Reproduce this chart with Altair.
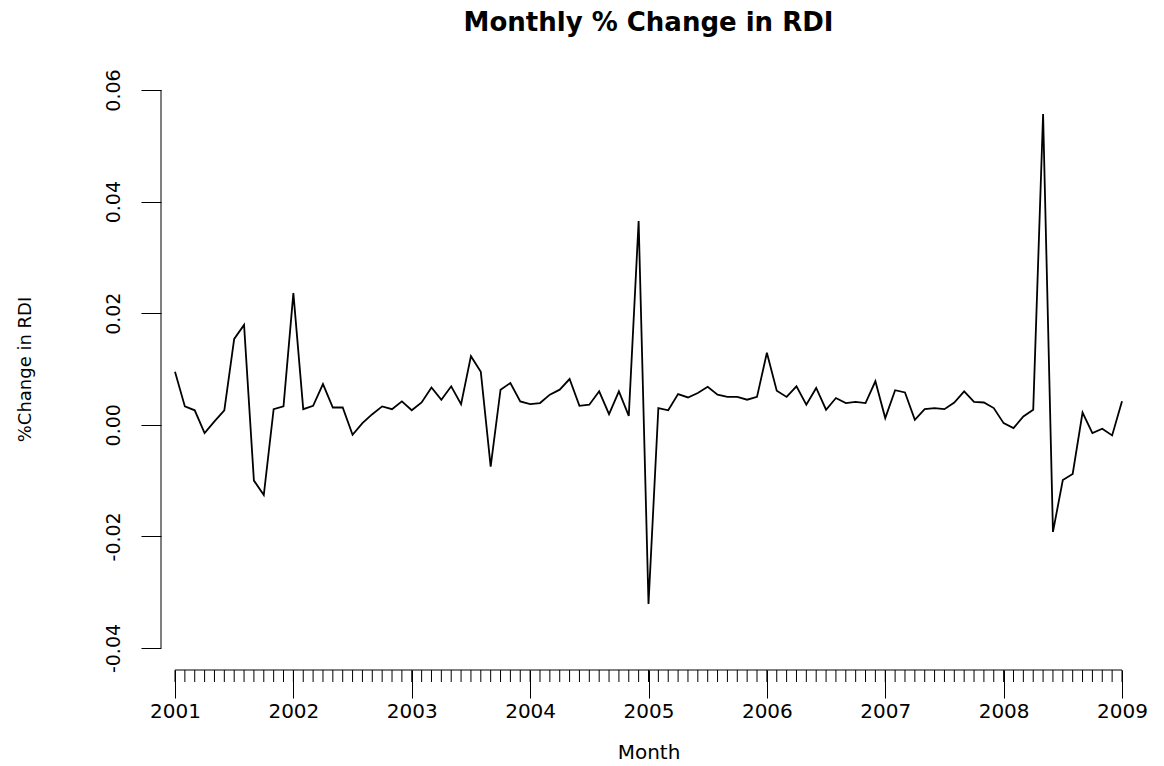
import altair as alt
import pandas as pd

# Monthly % change in RDI, Jan 2001 .. Jan 2009
rdi_change = [
    0.0095, 0.0033, 0.0026, -0.0015, 0.0006, 0.0026, 0.0154, 0.0179, -0.0100, -0.0126, 0.0028, 0.0033,
    0.0236, 0.0028, 0.0034, 0.0073, 0.0031, 0.0031, -0.0018, 0.0003, 0.0019, 0.0033, 0.0028, 0.0042,
    0.0026, 0.0040, 0.0067, 0.0045, 0.0069, 0.0037, 0.0123, 0.0095, -0.0075, 0.0063, 0.0075, 0.0042,
    0.0037, 0.0039, 0.0054, 0.0063, 0.0082, 0.0034, 0.0036, 0.0060, 0.0019, 0.0060, 0.0016, 0.0365,
    -0.0321, 0.0030, 0.0026, 0.0055, 0.0049, 0.0057, 0.0068, 0.0054, 0.0050, 0.0050, 0.0045, 0.0050,
    0.0129, 0.0061, 0.0050, 0.0069, 0.0036, 0.0066, 0.0027, 0.0048, 0.0039, 0.0041, 0.0039, 0.0078,
    0.0012, 0.0062, 0.0058, 0.0009, 0.0028, 0.0030, 0.0028, 0.0040, 0.0060, 0.0041, 0.0040, 0.0030,
    0.0003, -0.0006, 0.0015, 0.0027, 0.0557, -0.0192, -0.0099, -0.0088, 0.0022, -0.0015, -0.0007, -0.0019,
    0.0042,
]
start_year = 2001
month_pos = [start_year + i / 12 for i in range(len(rdi_change))]
year_ticks = [2001, 2002, 2003, 2004, 2005, 2006, 2007, 2008, 2009]
y_ticks = [-0.04, -0.02, 0.00, 0.02, 0.04, 0.06]
y_tick_labels = ["-0.04", "-0.02", "0.00", "0.02", "0.04", "0.06"]

W, H = 975, 602
FONT = "DejaVu Sans"

df = pd.DataFrame({"month": month_pos, "change": rdi_change})
ticks_df = pd.DataFrame({"month": month_pos})
xline_df = pd.DataFrame({"x": [year_ticks[0]], "x2": [year_ticks[-1]]})
yline_df = pd.DataFrame({"y": [y_ticks[0]], "y2": [y_ticks[-1]]})

xpad = (W / (947 / 8) - 8) / 2
ypad = (H / 5580 - 0.10) / 2
xscale = alt.Scale(domain=[year_ticks[0] - xpad, year_ticks[-1] + xpad], nice=False, zero=False)
yscale = alt.Scale(domain=[y_ticks[0] - ypad, y_ticks[-1] + ypad], nice=False, zero=False)

label_map = "{" + ",".join(f"'{round(v * 100)}':'{l}'" for v, l in zip(y_ticks, y_tick_labels)) + "}"

line = alt.Chart(df).mark_line(color="black", strokeWidth=1.8).encode(
    x=alt.X("month:Q", scale=xscale,
            axis=alt.Axis(values=year_ticks, format="d", title="Month", grid=False, domain=False,
                          tickSize=28, tickColor="black", tickWidth=1,
                          labelFont=FONT, labelFontSize=20, labelColor="black", labelPadding=3,
                          labelFlush=False, labelOverlap=False,
                          titleFont=FONT, titleFontSize=20, titleFontWeight="normal", titleColor="black",
                          titleBaseline="alphabetic", titleY=88, titleX=W / 2, titleAlign="center")),
    y=alt.Y("change:Q", scale=yscale,
            axis=alt.Axis(values=y_ticks, title="%Change in RDI", grid=False, domain=False,
                          tickSize=20, tickColor="black", tickWidth=1,
                          labelExpr=f"{label_map}['' + round(datum.value * 100)]",
                          labelFont=FONT, labelFontSize=19, labelColor="black", labelAngle=270,
                          labelAlign="center", labelBaseline="alphabetic", labelPadding=22,
                          labelFlush=False, labelOverlap=False,
                          titleFont=FONT, titleFontSize=18, titleFontWeight="normal", titleColor="black",
                          titleAngle=270, titleBaseline="alphabetic", titleAlign="center",
                          titleX=-131, titleY=H / 2)),
)

minor = alt.Chart(ticks_df).mark_rule(color="black", strokeWidth=1).encode(
    x=alt.X("month:Q", scale=xscale),
    y=alt.value(H), y2=alt.value(H + 12),
)

xline = alt.Chart(xline_df).mark_rule(color="black", strokeWidth=1).encode(
    x=alt.X("x:Q", scale=xscale), x2="x2:Q", y=alt.value(H),
)

yline = alt.Chart(yline_df).mark_rule(color="black", strokeWidth=1).encode(
    y=alt.Y("y:Q", scale=yscale), y2="y2:Q", x=alt.value(0),
)

chart = alt.layer(line, minor, xline, yline).properties(
    width=W, height=H,
    background="white",
    autosize=alt.AutoSizeParams(type="none"),
    padding={"left": 153, "top": 60, "right": 20, "bottom": 95},
    title=alt.TitleParams(text="Monthly % Change in RDI", anchor="middle", font=FONT, fontSize=26,
                          fontWeight="bold", color="black", baseline="alphabetic", offset=11),
).configure_view(stroke="transparent", strokeWidth=0)

chart.save("out.html", embed_options={"renderer": "svg", "actions": False})
